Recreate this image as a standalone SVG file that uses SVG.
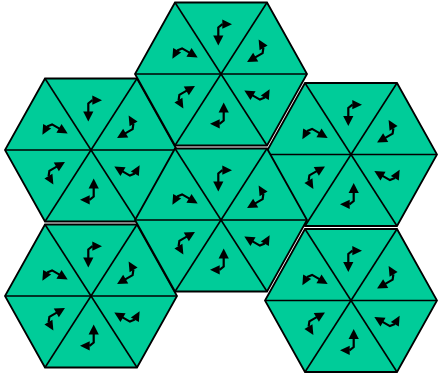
<svg xmlns="http://www.w3.org/2000/svg" width="438" height="375" viewBox="0 0 438 375">
  <style>
    .hex { fill: #00CC99; stroke: #000; stroke-width: 1.8; stroke-linejoin: miter; }
    .div { stroke: #000; stroke-width: 1.6; fill: none; }
    .stem { stroke: #000; stroke-width: 2.2; fill: none; stroke-linejoin: miter; }
    .head { fill: #000; stroke: none; }
  </style>
  <defs>
    <g id="glyphA">
      <polyline class="stem" points="1.5,-49.8 -2.7,-46.5 -2.7,-37"/>
      <polygon class="head" points="1.3,-54.5 11,-49.8 1.3,-45.3"/>
      <polygon class="head" points="-7.8,-38.5 2.4,-38.5 -2.7,-28.5"/>
    </g>
    <g id="glyphB" transform="scale(-1,1)">
      <use href="#glyphA"/>
    </g>
    <g id="hexshape">
      <polygon class="hex" points="-46,-71.5 46,-71.5 86,0 46,71.5 -46,71.5 -86,0"/>
      <line class="div" x1="-46" y1="-71.5" x2="46" y2="71.5"/>
      <line class="div" x1="46" y1="-71.5" x2="-46" y2="71.5"/>
      <line class="div" x1="-86" y1="0" x2="86" y2="0"/>
      <use href="#glyphA"/>
      <use href="#glyphA" transform="rotate(180)"/>
      <use href="#glyphB" transform="rotate(60)"/>
      <use href="#glyphB" transform="rotate(120)"/>
      <use href="#glyphB" transform="rotate(240)"/>
      <use href="#glyphB" transform="rotate(300)"/>
    </g>
  </defs>
  <g id="hex-left-top" transform="translate(91,150)"><use href="#hexshape"/></g>
  <g id="hex-right-top" transform="translate(351,154.5)"><use href="#hexshape"/></g>
  <g id="hex-left-bottom" transform="translate(91,296)"><use href="#hexshape"/></g>
  <g id="hex-right-bottom" transform="translate(351,300.5)"><use href="#hexshape"/></g>
  <g id="hex-top" transform="translate(221,74)"><use href="#hexshape"/></g>
  <g id="hex-center" transform="translate(221,220)"><use href="#hexshape"/></g>
  <g id="connectors"/>
</svg>
